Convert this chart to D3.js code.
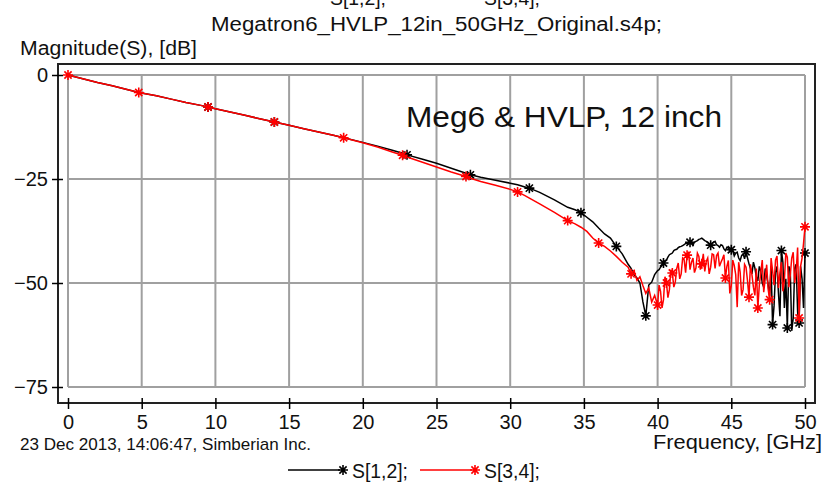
<!DOCTYPE html>
<html>
<head>
<meta charset="utf-8">
<script src="https://cdn.jsdelivr.net/npm/d3@7"></script>
<style>
  body { margin: 0; background: #fff; }
  svg { display: block; font-family: "Liberation Sans", Arial, sans-serif; }
</style>
</head>
<body>
<script>
// Frequency points, GHz (shared by both traces)
const freq = [0, 1, 2, 3, 4, 4.8, 6, 7, 8, 9, 9.5, 10, 11, 12, 13, 14, 15, 16, 17, 18, 18.7,
  20, 21, 22, 22.7, 23, 24, 25, 26, 27, 27.3, 28, 29, 30, 30.5, 31, 31.3, 32, 33, 33.9,
  34.4, 34.8, 35.2, 35.6, 36, 36.4, 36.8, 37.2, 37.6,
  38.0, 38.2, 38.4, 38.6, 38.8, 39.0, 39.2, 39.4, 39.6, 39.8,
  40.0, 40.1, 40.2, 40.3, 40.4, 40.5, 40.6, 40.7, 40.8, 40.9,
  41.0, 41.1, 41.2, 41.3, 41.4, 41.5, 41.6, 41.7, 41.8, 41.9,
  42.0, 42.1, 42.2, 42.3, 42.4, 42.5, 42.6, 42.7, 42.8, 42.9,
  43.0, 43.1, 43.2, 43.3, 43.4, 43.5, 43.6, 43.7, 43.8, 43.9,
  44.0, 44.1, 44.2, 44.3, 44.4, 44.5, 44.6, 44.7, 44.8, 44.9,
  45.0, 45.1, 45.2, 45.3, 45.4, 45.5, 45.6, 45.7, 45.8, 45.9,
  46.0, 46.1, 46.2, 46.3, 46.4, 46.5, 46.6, 46.7, 46.8, 46.9,
  47.0, 47.1, 47.2, 47.3, 47.4, 47.5, 47.6, 47.7, 47.8, 47.9,
  48.0, 48.1, 48.2, 48.3, 48.4, 48.5, 48.6, 48.7, 48.8, 48.9,
  49.0, 49.1, 49.2, 49.3, 49.4, 49.5, 49.6, 49.7, 49.8, 49.9,
  50.0];

// S[1,2], dB
const s12 = [0, -0.9, -1.8, -2.6, -3.5, -4.2, -5.0, -5.8, -6.6, -7.3, -7.7, -8.1, -8.9, -9.7, -10.5, -11.3, -12.1, -12.9, -13.7, -14.5, -15.1,
  -16.2, -17.1, -18.1, -18.8, -19.2, -20.2, -21.2, -22.4, -23.6, -24.0, -24.6, -25.3, -26.0, -26.4, -26.9, -27.2, -28.2, -30.0, -31.8,
  -32.4, -33.1, -34.2, -35.3, -36.8, -38.2, -39.2, -41.2, -43.0,
  -45.5, -46.5, -48.0, -48.8, -50.0, -54.5, -57.9, -50.5, -49.8, -48.0,
  -47.0, -46.8, -46.2, -45.8, -45.2, -44.6, -44.5, -43.8, -43.2, -43.0,
  -42.8, -42.2, -42.0, -41.9, -41.5, -41.3, -41.2, -41.0, -40.8, -40.5,
  -40.4, -40.6, -40.2, -40.0, -40.9, -40.2, -40.0, -39.8, -39.5, -39.4,
  -39.2, -39.5, -39.8, -40.0, -40.3, -40.6, -40.9, -40.4, -40.2, -40.0,
  -40.8, -41.0, -41.4, -40.8, -41.0, -41.8, -42.2, -41.4, -41.6, -42.4,
  -42.0, -42.2, -43.5, -42.8, -42.6, -44.0, -44.6, -43.4, -43.0, -44.2,
  -42.5, -44.0, -45.4, -46.5, -47.8, -45.0, -46.4, -48.5, -49.5, -46.0,
  -47.2, -50.0, -51.0, -46.5, -48.2, -50.5, -53.0, -46.0, -60.0, -55.5,
  -47.5, -46.0, -52.5, -58.0, -42.2, -45.0, -56.0, -49.0, -60.8, -46.0,
  -47.0, -61.5, -58.5, -46.5, -45.5, -57.0, -59.6, -46.0, -49.0, -56.0,
  -42.8];

// S[3,4], dB
const s34 = [0, -0.9, -1.8, -2.6, -3.5, -4.2, -5.0, -5.8, -6.6, -7.3, -7.7, -8.1, -8.9, -9.7, -10.5, -11.3, -12.1, -12.9, -13.7, -14.5, -15.1,
  -16.3, -17.3, -18.5, -19.3, -19.7, -20.9, -22.1, -23.3, -24.4, -24.8, -25.6, -26.5, -27.5, -28.1, -29.0, -29.6, -31.0, -33.0, -35.0,
  -35.8, -36.6, -37.6, -39.2, -40.4, -41.2, -42.3, -43.6, -45.0,
  -46.2, -47.8, -47.0, -49.4, -48.5, -50.6, -52.5, -51.2, -54.6, -53.0,
  -55.3, -50.5, -52.0, -56.0, -54.0, -48.5, -50.0, -53.5, -51.6, -46.8,
  -47.6, -51.0, -49.8, -46.5, -45.2, -49.0, -47.8, -44.0, -44.4, -47.5,
  -43.3, -42.5, -46.8, -45.0, -44.0, -47.5, -46.4, -42.8, -43.6, -46.8,
  -45.4, -43.0, -47.2, -44.8, -44.0, -47.8, -46.2, -43.0, -43.2, -46.5,
  -43.4, -42.8, -46.0, -45.0, -44.2, -43.2, -48.8, -46.0, -44.6, -52.5,
  -50.6, -44.5, -45.8, -48.0, -55.8, -45.0, -47.4, -53.0, -51.6, -45.5,
  -46.2, -49.5, -53.4, -45.5, -48.0, -51.0, -53.0, -46.5, -56.0, -50.5,
  -47.5, -44.5, -52.2, -49.0, -45.6, -51.5, -54.0, -44.0, -47.0, -50.5,
  -44.5, -43.5, -51.2, -47.5, -45.0, -52.0, -49.4, -42.8, -43.8, -51.0,
  -48.2, -44.0, -42.6, -50.0, -47.2, -41.5, -58.4, -46.0, -44.0, -40.5,
  -36.5];

// frequencies that carry a star marker
const s12Markers = [9.5, 14, 23, 27.3, 31.3, 34.8, 37.2, 39.2, 40.4, 42.2, 43.6, 45.0, 46.0, 47.8, 48.4, 48.8, 49.6, 50.0];
const s34Markers = [0, 4.8, 9.5, 14, 18.7, 22.7, 27, 30.5, 33.9, 36, 38.2, 40.0, 40.6, 41.0, 42.0, 43.0, 44.6, 46.2, 46.8, 47.6, 49.6, 50.0];

const xTicks = [0, 5, 10, 15, 20, 25, 30, 35, 40, 45, 50];
const yTicks = [0, -25, -50, -75];

const series = [
  { name: "S[1,2];", values: s12, markers: s12Markers, color: "#000" },
  { name: "S[3,4];", values: s34, markers: s34Markers, color: "#ff0000" },
];

const width = 828, height = 484;

const x = d3.scaleLinear().domain([0, 50]).range([68, 805]);
const y = d3.scaleLinear().domain([-75, 0]).range([387, 75]);

// plot frame sits a little outside the data range
const frame = { left: x(0) - 10, right: x(50) + 10, top: y(0) - 11, bottom: y(-75) + 16 };

const svg = d3.select("body").append("svg")
  .attr("width", width)
  .attr("height", height);

// grid
const grid = svg.append("g").attr("stroke", "#a0a0a0").attr("stroke-width", 2);
grid.selectAll("line.v").data(xTicks).join("line")
  .attr("class", "v")
  .attr("x1", d => x(d)).attr("x2", d => x(d))
  .attr("y1", y(0)).attr("y2", y(-75));
grid.selectAll("line.h").data(yTicks).join("line")
  .attr("class", "h")
  .attr("y1", d => y(d)).attr("y2", d => y(d))
  .attr("x1", x(0)).attr("x2", x(50));

// traces
svg.append("clipPath").attr("id", "plot-clip")
  .append("rect")
  .attr("x", frame.left).attr("y", frame.top)
  .attr("width", frame.right - frame.left).attr("height", frame.bottom - frame.top);

const line = d3.line()
  .x((d, i) => x(freq[i]))
  .y(d => y(d));

const star = "M-5,0H5M0,-5V5M-3.6,-3.6L3.6,3.6M-3.6,3.6L3.6,-3.6";

const traces = svg.append("g").attr("clip-path", "url(#plot-clip)");

series.forEach(s => {
  traces.append("path")
    .attr("fill", "none")
    .attr("stroke", s.color)
    .attr("stroke-width", 1.5)
    .attr("d", line(s.values));

  traces.append("g")
    .selectAll("path")
    .data(s.markers)
    .join("path")
    .attr("transform", f => {
      const i = freq.indexOf(f);
      return `translate(${x(freq[i])},${y(s.values[i])})`;
    })
    .attr("d", star)
    .attr("stroke", s.color)
    .attr("stroke-width", 1.6);
});

// frame
svg.append("rect")
  .attr("x", frame.left).attr("y", frame.top)
  .attr("width", frame.right - frame.left).attr("height", frame.bottom - frame.top)
  .attr("fill", "none")
  .attr("stroke", "#222")
  .attr("stroke-width", 2);

// axes
const xAxis = svg.append("g")
  .attr("transform", `translate(0,${frame.bottom})`)
  .call(d3.axisBottom(x).tickValues(xTicks).tickSize(6).tickPadding(6));
xAxis.select(".domain").remove();
xAxis.selectAll(".tick line").attr("y1", -5).attr("stroke", "#000").attr("stroke-width", 1.5);
xAxis.selectAll(".tick text")
  .attr("font-family", "Liberation Sans, Arial, sans-serif")
  .attr("font-size", 20)
  .attr("fill", "#111");

const yAxis = svg.append("g")
  .attr("transform", `translate(${frame.left},0)`)
  .call(d3.axisLeft(y).tickValues(yTicks).tickSize(6).tickPadding(4));
yAxis.select(".domain").remove();
yAxis.selectAll(".tick line").attr("x1", 5).attr("stroke", "#000").attr("stroke-width", 1.5);
yAxis.selectAll(".tick text")
  .attr("font-family", "Liberation Sans, Arial, sans-serif")
  .attr("font-size", 20)
  .attr("fill", "#111");

// texts
const txt = (str, px, py, size, anchor, len) => {
  const t = svg.append("text")
    .attr("x", px).attr("y", py)
    .attr("font-size", size)
    .attr("fill", "#111")
    .attr("text-anchor", anchor)
    .text(str);
  if (len) t.attr("textLength", len).attr("lengthAdjust", "spacingAndGlyphs");
  return t;
};

// first title line is cut by the top edge in the original as well
txt("S[1,2];", 330, 5, 20, "start", 56);
txt("S[3,4];", 484, 5, 20, "start", 56);
txt("Megatron6_HVLP_12in_50GHz_Original.s4p;", 211, 31, 20, "start", 451);
txt("Magnitude(S), [dB]", 20, 55, 20, "start", 177);
txt("Meg6 & HVLP, 12 inch", 406, 127, 29, "start", 316);
txt("23 Dec 2013, 14:06:47, Simberian Inc.", 20, 450, 17, "start", 291);
txt("Frequency, [GHz]", 822, 449, 20, "end", 169);

// legend
const legend = svg.append("g");
const legendX = [288, 420];
series.forEach((s, i) => {
  const lx = legendX[i];
  legend.append("line")
    .attr("x1", lx).attr("x2", lx + 52)
    .attr("y1", 470).attr("y2", 470)
    .attr("stroke", s.color).attr("stroke-width", 1.5);
  legend.append("path")
    .attr("transform", `translate(${lx + 55},470)`)
    .attr("d", star)
    .attr("stroke", s.color).attr("stroke-width", 1.6);
  legend.append("text")
    .attr("x", lx + 64).attr("y", 478)
    .attr("font-size", 20)
    .attr("fill", "#111")
    .attr("textLength", 56).attr("lengthAdjust", "spacingAndGlyphs")
    .text(s.name);
});
</script>
</body>
</html>
